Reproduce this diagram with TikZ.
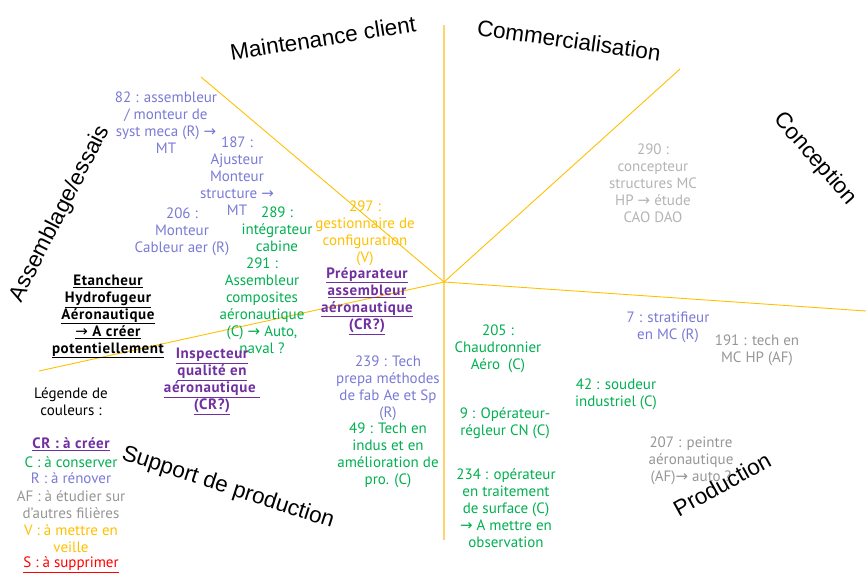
\documentclass[tikz,border=0pt]{standalone}
\usepackage{fontspec}
\newfontfamily\bodyfont{PT Sans}
\newfontfamily\boldbody{PT Sans Bold}[LetterSpace=4]
\newfontfamily\headfont{Liberation Sans}
\newfontfamily\arrfont{DejaVu Sans}
\newcommand\rarr{{\arrfont\char"2192}}
\definecolor{cR}{RGB}{122,122,214}
\definecolor{cC}{RGB}{0,176,80}
\definecolor{cAF}{RGB}{150,150,150}
\definecolor{cAFl}{RGB}{180,180,180}
\definecolor{cV}{RGB}{255,192,0}
\definecolor{cCR}{RGB}{112,48,160}
\definecolor{cS}{RGB}{255,0,0}
\definecolor{lineY}{RGB}{255,192,0}
\definecolor{lineV}{RGB}{255,212,110}
\tikzset{
  txt/.style={font=\bodyfont\fontsize{15}{17}\selectfont, align=center, inner sep=0pt},
  bld/.style={txt, font=\boldbody\fontsize{15}{17}\selectfont},
  head/.style={font=\headfont\fontsize{22.5}{26}\selectfont, inner sep=0pt},
  sepline/.style={draw=lineY, line width=0.9pt},
  vline/.style={draw=lineV, line width=1.6pt}
}
\begin{document}
\begin{tikzpicture}[x=1pt,y=-1pt]
\useasboundingbox (0,0) rectangle (866,574);
% divider lines
\coordinate (c) at (444,282);
\coordinate (mA) at (201,77);
\coordinate (vt) at (444,25);
\coordinate (vb) at (444,540);
\coordinate (cc) at (680,69);
\coordinate (pr) at (866,311);
\coordinate (sl) at (39,371);
\draw[vline] (vt) -- (vb);
\draw[sepline] (mA) -- (c);
\draw[sepline] (c) -- (cc);
\draw[sepline] (c) -- (pr);
\draw[sepline] (c) -- (sl);
% headings
\node[head, rotate=9] (hMC) at (323,38) {Maintenance client};
\node[head, rotate=-8] (hCom) at (569,40) {Commercialisation};
\node[head, rotate=-49] (hCon) at (815,159) {Conception};
\node[head, rotate=63] (hAss) at (60,214) {Assemblage/essais};
\node[head, rotate=-18] (hSup) at (228,488) {Support de production};
\node[head, rotate=29] (hProd) at (722,484) {Production};
% jobs
\node[txt, text=cR] (n82) at (166,122.5) {82 : assembleur\\/ monteur de\\syst meca (R) \rarr\\MT};
\node[txt, text=cR] (n187) at (237,176) {187 :\\Ajusteur\\Monteur\\structure \rarr\\MT};
\node[txt, text=cR] (n206) at (182,232) {206 :\\Monteur\\Cableur aer (R)};
\node[txt, text=cC] (n289) at (277,229.5) {289 :\\intégrateur\\cabine};
\node[txt, text=cC] (n291) at (262,305.5) {291 :\\Assembleur\\composites\\aéronautique\\(C) \rarr\ Auto,\\naval ?};
\node[txt, text=cV] (n297) at (365,233) {297 :\\gestionnaire de\\configuration\\(V)};
\node[bld, text=cCR] (nPrep) at (367,301) {\underline{Préparateur}\\\underline{assembleur}\\\underline{aéronautique}\\\underline{(CR?)}};
\node[bld, text=black] (nEtan) at (108,316.5) {\underline{Etancheur}\\\underline{Hydrofugeur}\\\underline{Aéronautique}\\\underline{\rarr\ A créer}\\\underline{potentiellement}};
\node[bld, text=cCR] (nInsp) at (212,381.5) {\underline{Inspecteur}\\\underline{qualité en}\\\underline{aéronautique\ }\\\underline{(CR?)}};
\node[txt, text=black] (nLeg) at (71,401.5) {Légende de\\couleurs :};
\node[bld, text=cCR] (lgCR) at (71,444) {\underline{CR : à créer}};
\node[txt, text=cC] (lgC) at (71,462) {C : à conserver};
\node[txt, text=cR] (lgR) at (71,478) {R : à rénover};
\node[txt, text=cAF] (lgAF) at (71,504.5) {AF : à étudier sur\\d’autres filières};
\node[txt, text=cV] (lgV) at (71,539) {V : à mettre en\\veille};
\node[txt, text=cS] (lgS) at (71,565) {\underline{S : à supprimer}};
\node[txt, text=cR] (n239) at (388,388.5) {239 : Tech\\prepa méthodes\\de fab Ae et Sp\\(R)};
\node[txt, text=cC] (n49) at (388,455.5) {49 : Tech en\\indus et en\\amélioration de\\pro. (C)};
\node[txt, text=cC] (n205) at (498,348.5) {205 :\\Chaudronnier\\Aéro~~(C)};
\node[txt, text=cC] (n9) at (505,423) {9 : Opérateur-\\régleur CN (C)};
\node[txt, text=cC] (n234) at (506,508) {234 : opérateur\\en traitement\\de surface (C)\\\rarr\ A mettre en\\observation};
\node[txt, text=cR] (n7) at (668,327) {7 : stratifieur\\en MC (R)};
\node[txt, text=cAF] (n191) at (757,350) {191 : tech en\\MC HP (AF)};
\node[txt, text=cC] (n42) at (616,394) {42 : soudeur\\industriel (C)};
\node[txt, text=cAF] (n207) at (691,460.5) {207 : peintre\\aéronautique\\(AF)\rarr\ auto ?};
\node[txt, text=cAFl] (n290) at (653,183) {290 :\\concepteur\\structures MC\\HP \rarr\ étude\\CAO DAO};
\end{tikzpicture}
\end{document}
